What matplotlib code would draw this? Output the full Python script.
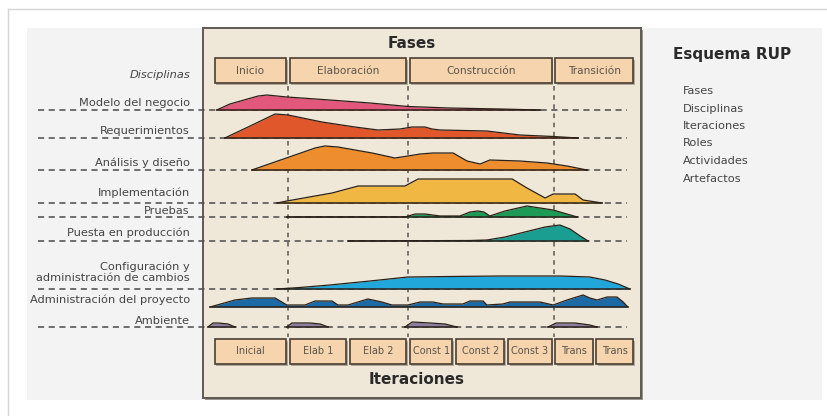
import matplotlib.pyplot as plt
from matplotlib.patches import Rectangle

# time axis: % of project duration (0-100)
phases = ['Inicio', 'Elaboración', 'Construcción', 'Transición']
phase_edges = [0, 17.8, 46.2, 80.7, 100]
iterations = ['Inicial', 'Elab 1', 'Elab 2', 'Const 1', 'Const 2', 'Const 3', 'Trans', 'Trans']
iter_edges = [0, 17.8, 32.0, 46.2, 57.2, 69.5, 80.7, 90.4, 100]

disciplines = ['Modelo del negocio', 'Requerimientos', 'Análisis y diseño', 'Implementación',
               'Pruebas', 'Puesta en producción', 'Configuración y\nadministración de cambios',
               'Administración del proyecto', 'Ambiente']

# effort profiles (time, effort) - each discipline is a list of segments
t_modelo = [[0.9, 4, 10.7, 12.8, 17.5, 27.7, 37.2, 46.2, 56, 68, 77.5]]
h_modelo = [[0, 6, 14, 15, 13, 10, 7, 3.5, 2, 1, 0]]
t_req = [[2.8, 8.8, 14.7, 17.8, 25.8, 33.6, 39.1, 44.3, 47.2, 50.2, 51.9, 53.8, 64.9, 72.7, 80.6, 86.5]]
h_req = [[0, 12, 24, 23, 16, 11, 8, 9, 11, 11, 9, 8, 7, 3, 1.5, 0]]
t_ana = [[9.2, 24.2, 26.5, 29.6, 37.7, 43.1, 46.2, 49.1, 52.1, 56.9, 60.2, 63.3, 65.6, 72.7, 79.1, 83.9, 88.6]]
h_ana = [[0, 22, 24, 23, 17, 12, 14, 16, 17, 17, 9, 6, 10, 9, 7, 4, 0]]
t_impl = [[15.2, 17.5, 28.2, 34.4, 45.5, 48.6, 70.9, 74.4, 78.7, 80.6, 85.8, 87.7, 92.2]]
h_impl = [[0, 2, 10, 17, 17, 24, 24, 15, 5, 9, 9, 3, 0]]
t_pru = [[17.5, 45.5, 47.9, 50.2, 53.8, 58.5, 60.9, 62.8, 64.2, 65.6, 69.2, 74.4, 80.6, 86.3]]
h_pru = [[0, 0, 3, 3, 1, 1, 5, 6, 5, 1, 6, 11, 7, 0]]
t_pue = [[32, 60.9, 64.9, 69.2, 73.9, 78.7, 82.2, 84.6, 87, 88.9]]
h_pue = [[0, 0.5, 1, 4, 9, 14, 16, 12, 5, 0]]
t_conf = [[15.2, 20.6, 27.7, 37.2, 46.2, 56.2, 68, 82.2, 89.3, 92.9, 96, 98.8]]
h_conf = [[0, 1.5, 4, 8, 12, 12.5, 13, 13, 12, 9, 5, 0]]
t_adm = [[-0.7, 5.2, 9.2, 14.7, 17.5, 21.8, 24.2, 28.2, 29.6, 32, 36.7, 40, 42.4, 46.2, 49.1, 52.1,
          54.5, 59.2, 60.9, 64, 64.9, 68.7, 70.4, 77.5, 80.6, 83.9, 87.7, 89.3, 91, 93.4, 95.7, 97.2, 98.3]]
h_adm = [[0, 7, 9, 9, 2, 2, 6, 6, 2, 2, 8, 5, 2, 2, 5, 5,
          3, 3, 6, 6, 2, 3, 5, 5, 2, 7, 12, 9, 7, 10, 10, 5, 0]]
t_amb = [[-1.2, 0, 1.2, 3.6, 5.2], [17.5, 18.7, 23, 25.4, 27.3],
         [45.5, 47.2, 51.4, 55, 57.8], [79.4, 81.3, 85.8, 89.3, 91]]
h_amb = [[0, 4, 4, 3, 0], [0, 4, 4, 3, 0], [0, 5, 4, 3, 0], [0, 4, 4, 2, 0]]

side_items = ['Fases', 'Disciplinas', 'Iteraciones', 'Roles', 'Actividades', 'Artefactos']

profiles = [(t_modelo, h_modelo), (t_req, h_req), (t_ana, h_ana), (t_impl, h_impl),
            (t_pru, h_pru), (t_pue, h_pue), (t_conf, h_conf), (t_adm, h_adm), (t_amb, h_amb)]
colors = ['#e2587c', '#e1572c', '#ee8d2e', '#f1b743', '#1e9a57', '#1b9e92',
          '#22a7da', '#1b69a5', '#8c7ea0']

# layout (pixels)
row_base = [110, 138, 170, 203, 217, 241, 289, 307, 327]
label_y = [103, 131, 163, 193, 211, 233, 272, 300, 321]
dashed_row = [True, True, True, True, True, True, True, False, True]
px_per_unit = 4.22
x_zero = 213

fig = plt.figure(figsize=(8.28, 4.16), dpi=100)
fig.patch.set_facecolor('white')

cv = fig.add_axes([0, 0, 1, 1], zorder=0)
cv.set_xlim(0, 828)
cv.set_ylim(416, 0)
cv.axis('off')

ax = fig.add_axes([0, 0, 1, 1], zorder=1)
ax.set_xlim(-x_zero / px_per_unit, (828 - x_zero) / px_per_unit)
ax.set_ylim(416, 0)
ax.axis('off')
ax.patch.set_alpha(0)

# background panels
cv.plot([8, 8], [9, 416], color='#d6d6d6', lw=1)
cv.plot([8, 828], [9, 9], color='#d6d6d6', lw=1)
cv.add_patch(Rectangle((27, 28), 795, 372, fc='#f4f3f3', ec='none'))
cv.add_patch(Rectangle((205, 30), 438, 370, fc='#9a948c', ec='none'))
cv.add_patch(Rectangle((203, 28), 438, 370, fc='#efe7d8', ec='#5e5953', lw=1.4))

txt = '#444444'
fs = 8.2
cv.text(412, 43, 'Fases', fontsize=11, fontweight='bold', color='#2a2a2a', ha='center', va='center')
cv.text(417, 379, 'Iteraciones', fontsize=11, fontweight='bold', color='#2a2a2a', ha='center', va='center')
cv.text(673, 55, 'Esquema RUP', fontsize=11, fontweight='bold', color='#2a2a2a', ha='left', va='center')
for i, item in enumerate(side_items):
    cv.text(683, 91 + i * 17.5, item, fontsize=fs, color=txt, ha='left', va='center')
cv.text(190, 75, 'Disciplinas', fontsize=fs, style='italic', color=txt, ha='right', va='center')
for name, y in zip(disciplines, label_y):
    cv.text(190, y, name, fontsize=fs, color=txt, ha='right', va='center', linespacing=1.15)


def box(x0, x1, y0, y1, label, size):
    ax.add_patch(Rectangle((x0 + 0.35, y0 + 1.5), x1 - x0, y1 - y0, fc='#8d7f70', ec='none', alpha=0.6))
    ax.add_patch(Rectangle((x0, y0), x1 - x0, y1 - y0, fc='#f5d4ae', ec='#4a3e33', lw=1.2))
    ax.text((x0 + x1) / 2, (y0 + y1) / 2, label, fontsize=size, color='#5a544b', ha='center', va='center')


gap = 0.45
for i, p in enumerate(phases):
    box(phase_edges[i] + gap, phase_edges[i + 1] - gap, 58, 83, p, 7.6)
for i, it in enumerate(iterations):
    box(iter_edges[i] + gap, iter_edges[i + 1] - gap, 339, 364, it, 7.0)

# phase boundaries
for e in phase_edges[1:-1]:
    ax.plot([e, e], [86, 337], color='#5a5550', lw=1.1, ls=(0, (3, 3)), zorder=1)

# discipline baselines
for base, dash in zip(row_base, dashed_row):
    if dash:
        ax.plot([-41.5, 98.1], [base, base], color='#4a4a4a', lw=1.1, ls=(0, (4, 3)), zorder=1)

# humps
for (ts, hs), base, col in zip(profiles, row_base, colors):
    for t, h in zip(ts, hs):
        top = [base - v for v in h]
        ax.fill_between(t, base, top, color=col, lw=0, zorder=2)
        ax.plot(t, top, color='#2b2118', lw=0.9, zorder=3, solid_joinstyle='round')
        ax.plot([t[0], t[-1]], [base, base], color='#2b2118', lw=1.1, zorder=3)

fig.savefig('out.png', dpi=100, facecolor='white')
